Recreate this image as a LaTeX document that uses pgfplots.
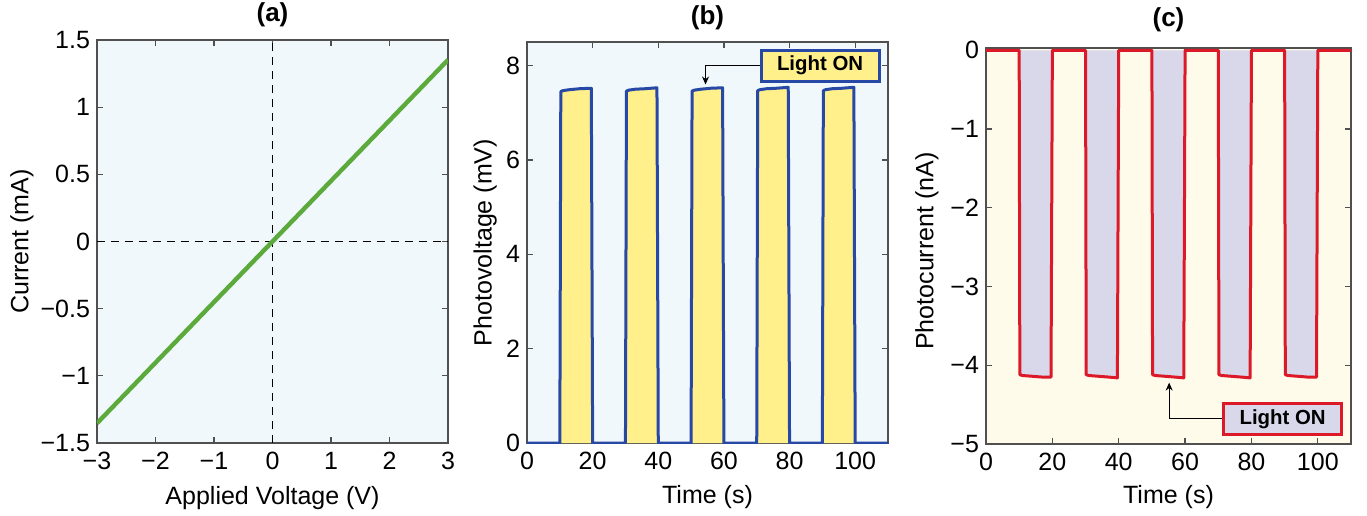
\documentclass[border=0pt]{standalone}
\usepackage{fontspec}
\setmainfont{Liberation Sans}
\usepackage{pgfplots}
\pgfplotsset{compat=1.18}
\usetikzlibrary{arrows.meta}

\definecolor{bgblue}{RGB}{240,248,252}
\definecolor{bgcream}{RGB}{255,251,234}
\definecolor{ivgreen}{RGB}{92,170,60}
\definecolor{pvblue}{RGB}{40,72,165}
\definecolor{pvfill}{RGB}{255,240,140}
\definecolor{pcred}{RGB}{220,25,40}
\definecolor{pcfill}{RGB}{216,216,234}
\definecolor{frame}{RGB}{80,80,80}

\pgfplotsset{
  panel/.style={
    scale only axis,
    anchor=south west,
    axis line style={frame, line width=0.6pt},
    tick style={frame, line width=0.6pt},
    major tick length=3pt,
    tick align=inside,
    /pgf/number format/assume math mode=true,
    tick label style={font=\fontsize{12.5}{14}\selectfont},
    label style={font=\fontsize{12.5}{14}\selectfont, anchor=center},
    % every axis title already shifts by 6pt; yshift adds up
    title style={font=\bfseries\fontsize{13}{15}\selectfont, anchor=center, yshift=-6pt},
    xticklabel style={yshift=-1pt},
  },
}
\tikzset{
  lighton/.style={draw=#1, line width=1.5pt, minimum width=59pt, minimum height=15.5pt,
    inner sep=0pt, font=\bfseries\fontsize{10.2}{12}\selectfont},
}

\begin{document}
\begin{tikzpicture}
\useasboundingbox (0,0) rectangle (683.5pt,257.5pt);

% (a) I-V curve
\begin{axis}[panel, at={(48.5pt,36pt)}, width=175.5pt, height=201.5pt,
  axis background/.style={fill=bgblue},
  xmin=-3, xmax=3, ymin=-1.5, ymax=1.5,
  xtick={-3,-2,-1,0,1,2,3}, xticklabels={−3,−2,−1,0,1,2,3},
  ytick={-1.5,-1,-0.5,0,0.5,1,1.5}, yticklabels={−1.5,−1,−0.5,0,0.5,1,1.5},
  xlabel={Applied Voltage (V)}, ylabel={Current (mA)},
  xlabel style={at={(axis description cs:0.5,-0.137)}},
  ylabel style={at={(axis description cs:-0.214,0.5)}},
  title={(a)}, title style={at={(axis description cs:0.5,1.062)}},
]
\addplot[black, dashed, line width=0.5pt, dash pattern=on 4pt off 3pt] coordinates {(0,-1.5)(0,1.5)};
\addplot[black, dashed, line width=0.5pt, dash pattern=on 4pt off 3pt] coordinates {(-3,0)(3,0)};
\addplot[ivgreen, line width=2.2pt] coordinates {
  (-3,-1.353)(-2,-0.902)(-1,-0.451)(0,0)(1,0.451)(2,0.901)(3,1.352)
};
\end{axis}

% (b) photovoltage
\begin{axis}[panel, at={(263.5pt,36pt)}, width=180.5pt, height=200.5pt,
  axis background/.style={fill=bgblue},
  xmin=0, xmax=110, ymin=0, ymax=8.5,
  xtick={0,20,...,100}, ytick={0,2,4,6,8},
  xlabel={Time (s)}, ylabel={Photovoltage (mV)},
  xlabel style={at={(axis description cs:0.5,-0.135)}},
  ylabel style={at={(axis description cs:-0.116,0.5)}},
  title={(b)}, title style={at={(axis description cs:0.5,1.06)}},
]
\addplot[draw=pvblue, fill=pvfill, line width=1.5pt, line join=round] coordinates {
  (0,0)(10,0)(10.3,7.45)(11,7.47)(13,7.49)(16,7.51)(19.6,7.52)(20,0)
  (30,0)(30.3,7.46)(31,7.48)(33,7.50)(36,7.51)(39.6,7.53)(40,0)
  (50,0)(50.3,7.46)(51,7.48)(53,7.50)(56,7.52)(59.6,7.53)(60,0)
  (70,0)(70.3,7.47)(71,7.49)(73,7.51)(76,7.52)(79.6,7.54)(80,0)
  (90,0)(90.3,7.47)(91,7.49)(93,7.51)(96,7.52)(99.6,7.54)(100,0)
  (110,0)
};
\node[lighton=pvblue, fill=pvfill] (lb) at (axis cs:89.3,8.0) {Light ON};
\draw[black, line width=0.5pt, -{Stealth[length=4pt,width=3.5pt]}] (lb.west) -| (axis cs:54.4,7.6);
\end{axis}

% (c) photocurrent
\begin{axis}[panel, at={(493pt,35.5pt)}, width=182.5pt, height=198pt,
  axis background/.style={fill=bgcream},
  xmin=0, xmax=110, ymin=-5, ymax=0.03,
  xtick={0,20,...,100}, ytick={-5,-4,-3,-2,-1,0}, yticklabels={−5,−4,−3,−2,−1,0},
  xlabel={Time (s)}, ylabel={Photocurrent (nA)},
  xlabel style={at={(axis description cs:0.5,-0.134)}},
  ylabel style={at={(axis description cs:-0.162,0.487)}},
  title={(c)}, title style={at={(axis description cs:0.5,1.071)}},
]
\addplot[draw=pcred, fill=pcfill, line width=1.5pt, line join=round] coordinates {
  (0,0)(10,0)(10.2,-4.12)(11,-4.13)(14,-4.14)(17,-4.15)(19.6,-4.15)(20,0)
  (30,0)(30.2,-4.12)(31,-4.13)(34,-4.14)(37,-4.15)(39.6,-4.16)(40,0)
  (50,0)(50.2,-4.12)(51,-4.13)(54,-4.14)(57,-4.15)(59.6,-4.16)(60,0)
  (70,0)(70.2,-4.12)(71,-4.13)(74,-4.14)(77,-4.15)(79.6,-4.16)(80,0)
  (90,0)(90.2,-4.12)(91,-4.13)(94,-4.14)(97,-4.15)(99.6,-4.15)(100,0)
  (110,0)
};
\node[lighton=pcred, fill=pcfill] (lc) at (axis cs:89.4,-4.68) {Light ON};
\draw[black, line width=0.5pt, -{Stealth[length=4pt,width=3.5pt]}] (lc.west) -| (axis cs:55.2,-4.22);
\end{axis}
\end{tikzpicture}
\end{document}
